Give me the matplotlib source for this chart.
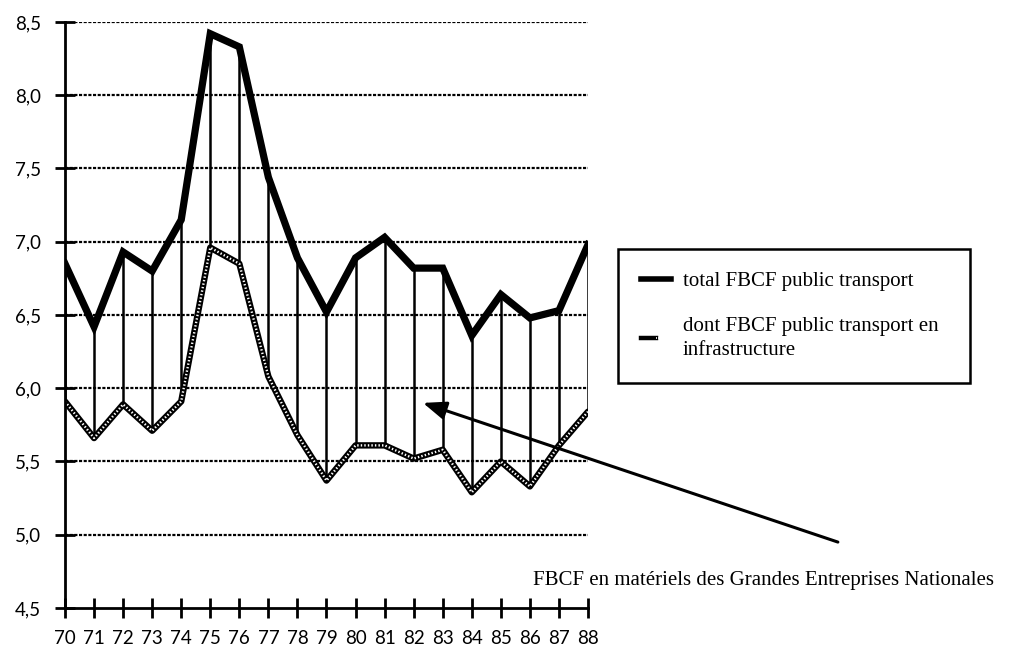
import matplotlib
matplotlib.use("Agg")
import matplotlib.pyplot as plt
from matplotlib.lines import Line2D
from matplotlib.legend_handler import HandlerTuple

years = list(range(70, 89))
year_labels = [str(y) for y in years]
total_fbcf = [6.85, 6.42, 6.93, 6.80, 7.15, 8.42, 8.33, 7.44, 6.89, 6.52,
              6.89, 7.03, 6.82, 6.82, 6.36, 6.64, 6.48, 6.53, 6.98]
infra_fbcf = [5.91, 5.66, 5.89, 5.71, 5.91, 6.96, 6.85, 6.08, 5.68, 5.37,
              5.61, 5.61, 5.52, 5.58, 5.29, 5.50, 5.33, 5.61, 5.84]
y_ticks = [4.5, 5.0, 5.5, 6.0, 6.5, 7.0, 7.5, 8.0, 8.5]
y_labels = ["4,5", "5,0", "5,5", "6,0", "6,5", "7,0", "7,5", "8,0", "8,5"]
series_names = ["total FBCF public transport",
                "dont FBCF public transport en\ninfrastructure"]
note_text = "FBCF en matériels des Grandes Entreprises Nationales"

tick_font = "Lato"
serif_font = "Liberation Serif"

W, H = 1011, 649
fig = plt.figure(figsize=(W / 100, H / 100), dpi=100)
ax = fig.add_axes([65 / W, 1 - 608 / H, (588 - 65) / W, (608 - 22) / H])
ax.set_xlim(70, 88)
ax.set_ylim(4.5, 8.5)

# horizontal grid (dense dotted lines)
for yv in y_ticks[1:]:
    ax.axhline(yv, color="black", lw=1.6, ls=(0, (1.4, 0.7)), zorder=1)

# high-low lines between the two series
ax.vlines(years, infra_fbcf, total_fbcf, color="black", lw=1.8, zorder=2)

# infrastructure series: patterned tube
ax.plot(years, infra_fbcf, color="black", lw=4.6, solid_joinstyle="round",
        solid_capstyle="round", zorder=3)
ax.plot(years, infra_fbcf, color="white", lw=1.7, ls=(0, (0.6, 0.9)), zorder=4)

# total series
ax.plot(years, total_fbcf, color="black", lw=5.2, solid_joinstyle="miter", zorder=5)

for side in ("top", "right"):
    ax.spines[side].set_visible(False)
for side in ("left", "bottom"):
    ax.spines[side].set_linewidth(2)
    ax.spines[side].set_zorder(6)

ax.set_yticks(y_ticks)
ax.set_yticklabels(y_labels, fontfamily=tick_font, fontsize=13.5)
ax.set_xticks(years)
ax.set_xticklabels(year_labels, fontfamily=tick_font, fontsize=13.5)
ax.tick_params(axis="y", direction="inout", length=14, width=2, pad=10)
ax.tick_params(axis="x", direction="inout", length=15, width=2, pad=8)

# legend
h_total = Line2D([], [], color="black", lw=4.0)
h_infra_a = Line2D([], [], color="black", lw=3.2)
h_infra_b = Line2D([], [], color="white", lw=1.2, ls=(0, (0.6, 0.7)))
leg = fig.legend([h_total, (h_infra_a, h_infra_b)], series_names,
                 handler_map={tuple: HandlerTuple(ndivide=None, pad=0)},
                 loc="upper left",
                 bbox_to_anchor=(618 / W, 1 - 382 / H, (970 - 618) / W, (382 - 249) / H),
                 mode="expand",
                 prop={"family": serif_font, "size": 15},
                 handlelength=1.45, handletextpad=0.55, labelspacing=1.2,
                 borderpad=1.1, borderaxespad=0, fancybox=False, framealpha=1,
                 edgecolor="black")
leg.get_frame().set_linewidth(1.8)
leg.get_texts()[1].set_linespacing(1.4)
leg.set_zorder(10)

# annotation pointing into the gap between the series
ax.annotate("", xy=(82.32, 5.90), xytext=(96.6, 4.95),
            arrowprops=dict(arrowstyle="-|>,head_length=1.4,head_width=0.55",
                            color="black", lw=2.2, shrinkA=0, shrinkB=0),
            annotation_clip=False, zorder=7)
ax.text(86.1, 4.69, note_text, fontfamily=serif_font, fontsize=15,
        ha="left", va="center", clip_on=False)

fig.savefig("out.png", dpi=100, facecolor="white")
